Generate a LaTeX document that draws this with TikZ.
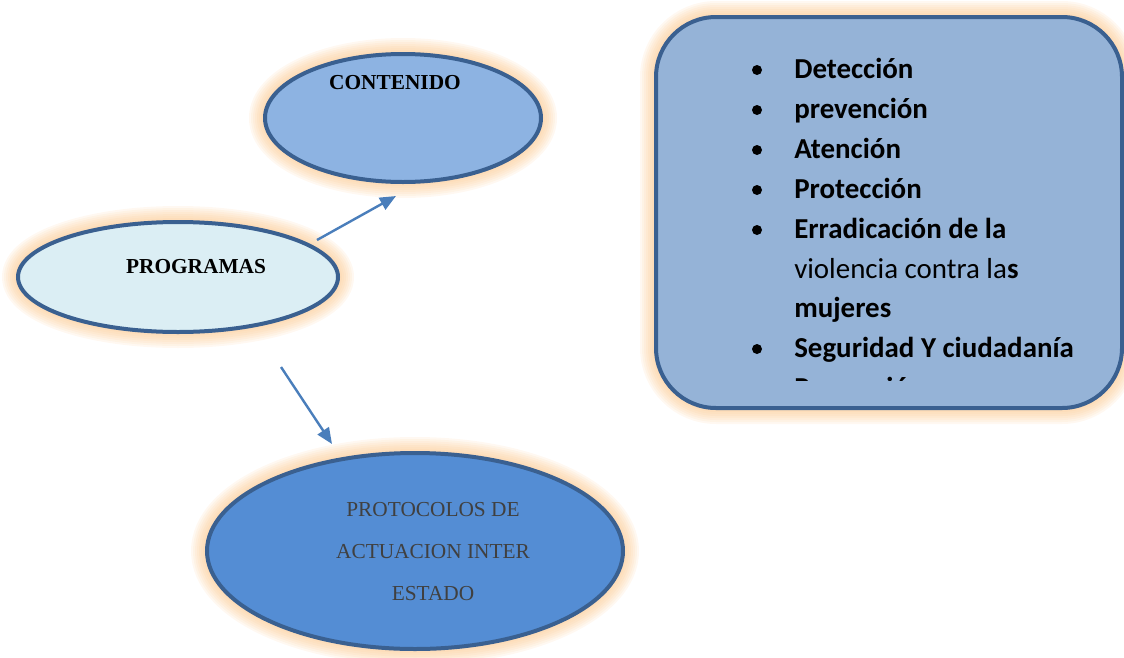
\documentclass[tikz,border=0pt]{standalone}
\usepackage{fontspec}
\setmainfont{Liberation Serif}
\newfontfamily\calib{Carlito}
\usetikzlibrary{arrows.meta,shapes.geometric}
\definecolor{bordc}{HTML}{3A6090}
\definecolor{contc}{HTML}{8DB3E2}
\definecolor{progc}{HTML}{DBEEF4}
\definecolor{protc}{HTML}{548DD4}
\definecolor{boxc}{HTML}{95B3D7}
\definecolor{glowc}{HTML}{FBC384}
\definecolor{arrc}{HTML}{4A7EBB}
\definecolor{txtg}{HTML}{404040}
\tikzset{
  shapeline/.style={draw=bordc, line width=3pt},
  ell/.style={shapeline, ellipse, inner sep=0pt},
  arr/.style={draw=arrc, line width=1.8pt, -{Triangle[length=12pt,width=10pt]}},
  bl/.style={anchor=base west, inner sep=0pt, font=\calib\fontsize{21.7}{25}\selectfont},
  dot/.style={circle, fill=black, inner sep=0pt, minimum size=7.5pt},
  elabel/.style={inner sep=0pt, font=\fontsize{16}{20}\selectfont},
  glow/.style={glowc, opacity=0.11},
}
\begin{document}
\begin{tikzpicture}[x=0.75pt,y=-0.75pt]
\useasboundingbox (0,0) rectangle (1124,657);
% glows
\foreach \w in {3,6,...,24}{
  \draw[glow, line width=\w pt] (403,118) ellipse (138 and 64);
  \draw[glow, line width=\w pt] (178,277) ellipse (160 and 55);
  \draw[glow, line width=\w pt] (415,551) ellipse (208 and 98);
  \draw[glow, line width=\w pt, rounded corners=45pt] (656,17) rectangle (1122,408);
}
% shapes
\node[ell, fill=contc, minimum width=276*0.75pt, minimum height=128*0.75pt] (cont) at (403,118) {};
\node[ell, fill=progc, minimum width=320*0.75pt, minimum height=110*0.75pt] (prog) at (178,277) {};
\node[ell, fill=protc, minimum width=416*0.75pt, minimum height=196*0.75pt] (prot) at (415,551) {};
\node[shapeline, fill=boxc, rectangle, rounded corners=45pt, minimum width=466*0.75pt, minimum height=391*0.75pt, inner sep=0pt] (box) at (889,212.5) {};
% ellipse labels
\node[elabel, font=\bfseries\fontsize{16}{20}\selectfont] (tcont) at (395,83) {CONTENIDO};
\node[elabel, font=\bfseries\fontsize{16}{20}\selectfont] (tprog) at (196,267) {PROGRAMAS};
\node[elabel, text=txtg, align=center, font=\fontsize{16}{31.5}\selectfont] (tprot) at (433,552) {PROTOCOLOS DE\\ACTUACION INTER\\ESTADO};
% arrows
\coordinate (a1s) at (317,240);
\coordinate (a1e) at (396,196);
\coordinate (a2s) at (281,367);
\coordinate (a2e) at (332,444);
\draw[arr] (a1s) -- (a1e);
\draw[arr] (a2s) -- (a2e);
% list
\node[dot] (d1) at (757,70) {};
\node[bl] (l1) at (794,78) {\bfseries Detección};
\node[dot] (d2) at (757,110) {};
\node[bl] (l2) at (794,118) {\bfseries prevención};
\node[dot] (d3) at (757,150) {};
\node[bl] (l3) at (794,158) {\bfseries Atención};
\node[dot] (d4) at (757,190) {};
\node[bl] (l4) at (794,198) {\bfseries Protección};
\node[dot] (d5) at (757,230) {};
\node[bl] (l5) at (794,238) {\bfseries Erradicación de la};
\node[bl] (l6) at (794,278) {violencia contra la\textbf{s}};
\node[bl] (l7) at (794,317) {\bfseries mujeres};
\node[dot] (d8) at (757,349) {};
\node[bl] (l8) at (794,357) {\bfseries Seguridad Y ciudadanía};
\begin{scope}
\clip (656,370) rectangle (1122,380);
\node[dot] (d9) at (757,389) {};
\node[bl] (l9) at (794,397) {\bfseries Promoción};
\end{scope}
\end{tikzpicture}
\end{document}
